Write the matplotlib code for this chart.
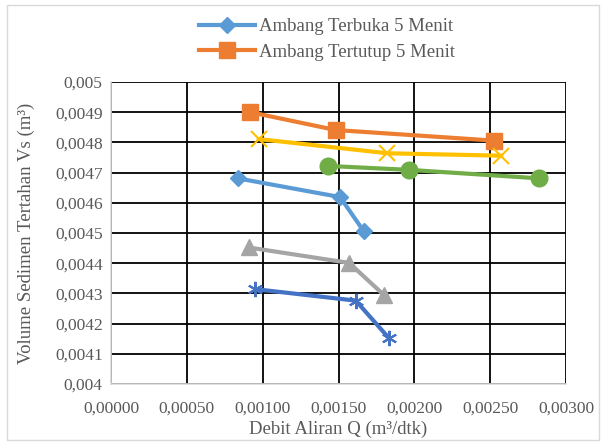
import matplotlib
matplotlib.use("Agg")
import matplotlib.pyplot as plt
from matplotlib.ticker import FuncFormatter, MultipleLocator
from matplotlib.patches import Rectangle

plt.rcParams["font.family"] = ["Liberation Serif", "DejaVu Serif"]

# Debit (m3/dtk) and retained sediment volume (m3) per series
q_terbuka5 = [0.000835, 0.001510, 0.001665]
v_terbuka5 = [0.004681, 0.004619, 0.004507]

q_tertutup5 = [0.000919, 0.001481, 0.002522]
v_tertutup5 = [0.004900, 0.004841, 0.004806]

q_abu = [0.000908, 0.001570, 0.001801]
v_abu = [0.004452, 0.004401, 0.004294]

q_kuning = [0.000974, 0.001823, 0.002573]
v_kuning = [0.004811, 0.004764, 0.004756]

q_biru_tua = [0.000952, 0.001614, 0.001834]
v_biru_tua = [0.004314, 0.004276, 0.004151]

q_hijau = [0.001433, 0.001966, 0.002822]
v_hijau = [0.004722, 0.004709, 0.004681]

legend_labels = ["Ambang Terbuka 5 Menit", "Ambang Tertutup 5 Menit"]

text_col = "#595959"

fig = plt.figure(figsize=(6.06, 4.43), dpi=100)
ax = fig.add_axes([111 / 606, 1 - 384 / 443, 455 / 606, 302 / 443])

h1, = ax.plot(q_terbuka5, v_terbuka5, color="#5B9BD5", lw=3, marker="D",
              ms=8, label=legend_labels[0], zorder=3)
h2, = ax.plot(q_tertutup5, v_tertutup5, color="#ED7D31", lw=3, marker="s",
              ms=11, label=legend_labels[1], zorder=3)
ax.plot(q_abu, v_abu, color="#A5A5A5", lw=3, marker="^", ms=11, zorder=3)
ax.plot(q_kuning, v_kuning, color="#FFC000", lw=3, marker="x", ms=11,
        mew=1.5, zorder=3)
ax.plot(q_biru_tua, v_biru_tua, color="#4472C4", lw=3, marker=(6, 2, 0),
        ms=11, mew=1.5, zorder=3)
ax.plot(q_hijau, v_hijau, color="#70AD47", lw=3, marker="o", ms=12, zorder=3)

ax.set_xlim(0, 0.003)
ax.set_ylim(0.004, 0.005)
ax.xaxis.set_major_locator(MultipleLocator(0.0005))
ax.yaxis.set_major_locator(MultipleLocator(0.0001))
ax.xaxis.set_major_formatter(FuncFormatter(lambda v, p: f"{v:.5f}".replace(".", ",")))


def yfmt(v, p):
    s = f"{v:.4f}".rstrip("0")
    return s.replace(".", ",")


ax.yaxis.set_major_formatter(FuncFormatter(yfmt))
ax.grid(True, color="black", lw=1.3, zorder=1)
ax.tick_params(length=0, labelsize=12.5, labelcolor=text_col)
ax.tick_params(axis="x", pad=12)
ax.tick_params(axis="y", pad=6)
for side in ["top", "right"]:
    ax.spines[side].set_visible(False)
for side in ["left", "bottom"]:
    ax.spines[side].set_color("#D9D9D9")
    ax.spines[side].set_linewidth(1.2)
    ax.spines[side].set_zorder(2)

ax.set_xlabel("Debit Aliran Q (m³/dtk)", fontsize=13.5, color=text_col, labelpad=3)
ax.set_ylabel("Volume Sedimen Tertahan Vs (m³)", fontsize=13.5, color=text_col, labelpad=14)

fig.legend(handles=[h1, h2], loc="center", bbox_to_anchor=(0.54, 0.911),
           frameon=False, fontsize=13.5, labelcolor=text_col, handlelength=3,
           labelspacing=0.45, handletextpad=0.2)

fig.patches.append(Rectangle((7 / 606, 3 / 443), 592 / 606, 435 / 443,
                             transform=fig.transFigure, fill=False,
                             edgecolor="#D9D9D9", lw=1))

plt.savefig("out.png", dpi=100)
plt.close()
